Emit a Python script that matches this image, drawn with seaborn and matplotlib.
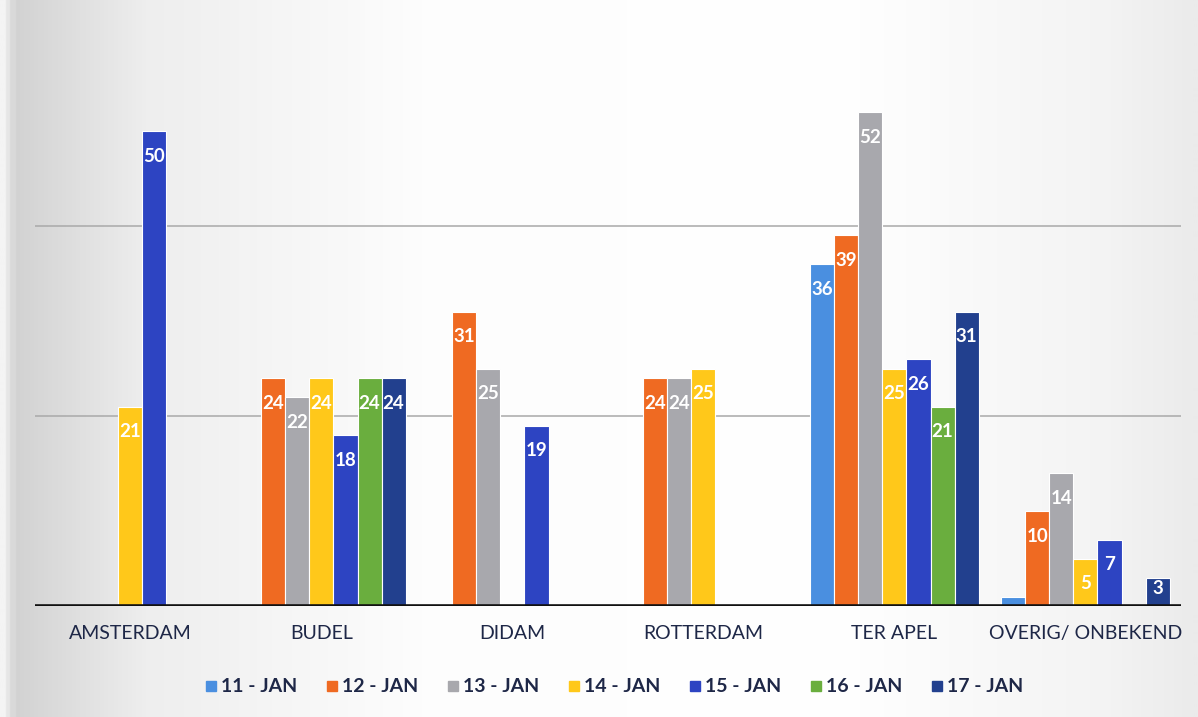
import numpy as np
import pandas as pd
import matplotlib
matplotlib.use("Agg")
import matplotlib.pyplot as plt
import seaborn as sns
from matplotlib.lines import Line2D
from matplotlib.colors import LinearSegmentedColormap

# ---------------- data ----------------
locations = ["AMSTERDAM", "BUDEL", "DIDAM", "ROTTERDAM", "TER APEL", "OVERIG/ ONBEKEND"]
days = ["11 - JAN", "12 - JAN", "13 - JAN", "14 - JAN", "15 - JAN", "16 - JAN", "17 - JAN"]

jan11 = [0, 0, 0, 0, 36, 1]
jan12 = [0, 24, 31, 24, 39, 10]
jan13 = [0, 22, 25, 24, 52, 14]
jan14 = [21, 24, 0, 25, 25, 5]
jan15 = [50, 18, 19, 0, 26, 7]
jan16 = [0, 24, 0, 0, 21, 0]
jan17 = [0, 24, 0, 0, 31, 3]

series = [jan11, jan12, jan13, jan14, jan15, jan16, jan17]
colors = ["#4A8FE0", "#EF6A22", "#A8A8AD", "#FFC81A", "#2D44C2", "#6AAE3E", "#22408E"]

rows = []
for d, vals in zip(days, series):
    for loc, v in zip(locations, vals):
        rows.append({"loc": loc, "day": d, "value": v})
df = pd.DataFrame(rows)

# ---------------- figure ----------------
sns.set_theme(style="white")
plt.rcParams["font.family"] = ["Lato", "DejaVu Sans"]

W, H = 11.98, 7.17
fig = plt.figure(figsize=(W, H), dpi=100)

# scanned-paper background gradient
bg = fig.add_axes([0, 0, 1, 1], zorder=-10)
cmap = LinearSegmentedColormap.from_list(
    "bg",
    [(0.0, "#F4F4F4"), (0.01, "#D2D2D2"), (0.12, "#EEEEEE"), (0.35, "#FDFDFD"),
     (0.7, "#FFFFFF"), (0.93, "#F3F3F3"), (1.0, "#EBEBEB")])
grad = np.linspace(0, 1, 600).reshape(1, -1)
bg.imshow(grad, aspect="auto", cmap=cmap, extent=[0, 1, 0, 1])
bg.axis("off")

ax = fig.add_axes([0.0292, 0.1548, 0.9566, 0.795])
ax.set_facecolor("none")

sns.barplot(data=df, x="loc", y="value", hue="day", hue_order=days, order=locations,
            palette=colors, width=0.88, dodge=True, ax=ax, legend=False,
            edgecolor="white", linewidth=0.8, saturation=1, errorbar=None)

ax.set_xlim(-0.5, 5.5)
ax.set_ylim(0, 60)
for y in [20, 40]:
    ax.axhline(y, color="#A9A9A9", lw=1.1, zorder=0)
ax.axhline(0, color="#111111", lw=2.6, zorder=5)

# value labels inside the bar tops
for p in ax.patches:
    h = p.get_height()
    if h >= 3:
        off = -12 if h >= 5 else -2
        ax.annotate(f"{int(round(h))}", (p.get_x() + p.get_width() / 2, h),
                    xytext=(0, off), textcoords="offset points",
                    ha="center", va="top", color="white", fontsize=13.5,
                    fontweight="bold", zorder=6)

for s in ax.spines.values():
    s.set_visible(False)
ax.set_yticks([])
ax.set_xlabel("")
ax.set_ylabel("")
ax.tick_params(axis="x", length=0, pad=14)
ax.set_xticks(range(len(locations)))
ax.set_xticklabels(locations, fontsize=14, color="#1E2747")

handles = [Line2D([0], [0], marker="s", linestyle="", markersize=7,
                  markerfacecolor=c, markeredgecolor=c) for c in colors]
fig.legend(handles, days, loc="center", bbox_to_anchor=(0.512, 0.042), ncol=7,
           frameon=False, handletextpad=0.1, columnspacing=1.4,
           handlelength=0.8, labelcolor="#1E2747",
           prop={"family": ["Lato", "DejaVu Sans"], "size": 14, "weight": "bold"})

fig.savefig("out.png", dpi=100)
